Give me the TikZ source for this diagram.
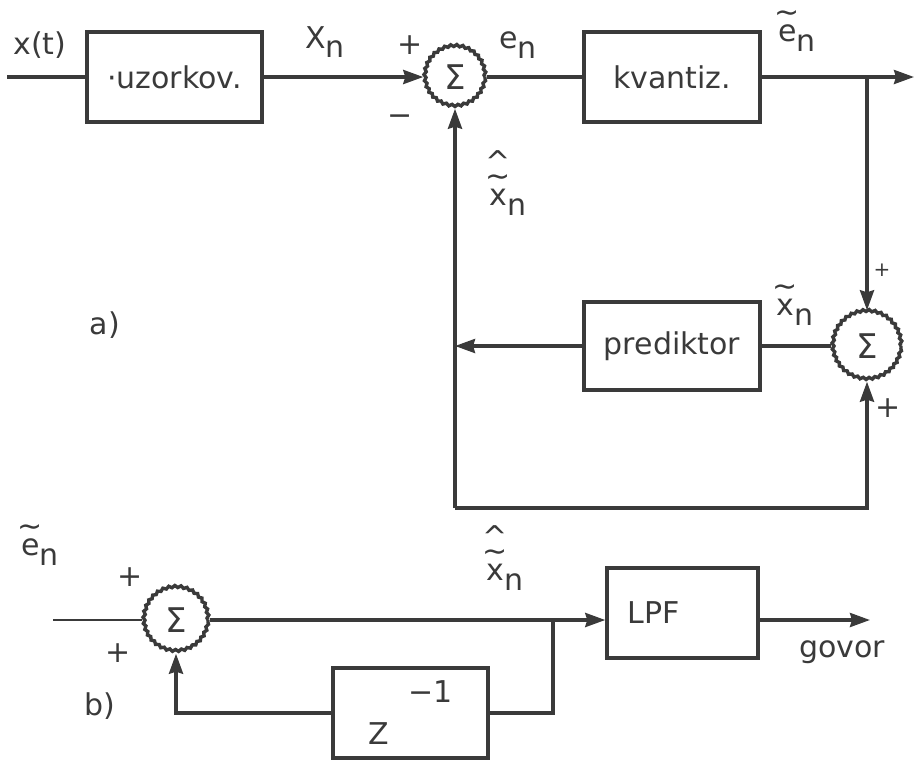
\documentclass[tikz,border=0pt]{standalone}
\usepackage{fontspec}
\setmainfont{DejaVu Sans}
\usepackage{tikz}
\usetikzlibrary{arrows.meta,positioning,decorations.pathmorphing}
\definecolor{ink}{HTML}{3A3A3A}
\newcommand\indeks[2]{#1\raisebox{-0.6ex}{#2}}
\newcommand\tild[1]{\ooalign{#1\cr\hidewidth\raisebox{1.15ex}{\textasciitilde}\hidewidth\cr}}
\newcommand\htild[1]{\ooalign{#1\cr\hidewidth\raisebox{1.15ex}{\textasciitilde}\hidewidth\cr\hidewidth\raisebox{2.0ex}{\textasciicircum}\hidewidth\cr}}
\tikzset{
  blok/.style={draw,rectangle,minimum height=45pt,inner sep=0pt},
  zbir/.style={draw,circle,inner sep=0pt,font=\fontsize{17}{20}\selectfont,
    decorate,decoration={snake,amplitude=0.5pt,segment length=3pt}},
}

\begin{document}
\begin{tikzpicture}[x=0.5pt,y=-0.5pt,ink,line width=1.7pt,
  >={Stealth[length=10pt,width=7pt,inset=1pt]},font=\fontsize{15}{18}\selectfont]
\useasboundingbox (0,0) rectangle (916,761);
% a) koder
\node[blok,minimum width=87.5pt] (uzork) at (174.5,77) {·uzorkov.};
\node[zbir,minimum size=30pt] (s1) at (455,77) {Σ};
\node[blok,minimum width=88pt] (kvant) at (672,77) {kvantiz.};
\node[zbir,minimum size=34pt] (s2) at (867,346) {Σ};
\node[blok,minimum width=88pt,minimum height=44pt] (pred) at (672,346) {prediktor};
\coordinate (ulaz) at (7,77);
\coordinate (izlaz) at (914,77);
\coordinate (grana) at (s2 |- izlaz);
\coordinate (dno) at (455,508);
\coordinate (levo) at (dno |- pred);

\draw (ulaz) -- (uzork);
\draw[->] (uzork) -- (s1);
\draw (s1) -- (kvant);
\draw[->] (kvant) -- (izlaz);
\draw[->] (grana) -- (s2);
\draw (s2) -- (pred);
\draw[->] (pred) -- (levo);
\draw[->] (dno) -- (s1);
\draw[->] (dno) -| (s2);

\node (xt) at (40,45) {x(t)};
\node (xn) at (325,42) {\indeks{X}{n}};
\node (plus1) at (410,45) {+};
\node (minus1) at (400,120) {−};
\node (en) at (518,45) {\indeks{e}{n}};
\node (eqn) at (797,38) {\indeks{\tild{e}}{n}};
\node (xp) at (508,202) {\indeks{\htild{x}}{n}};
\node (xq) at (795,312) {\indeks{\tild{x}}{n}};
\node[font=\fontsize{10}{12}\selectfont] (plus2) at (882,270) {+};
\node (plus3) at (888,408) {+};
\node (a) at (105,325) {a)};

% b) dekoder
\node[zbir,minimum size=32pt] (s3) at (176,620) {Σ};
\node[blok,minimum width=75.5pt] (lpf) at (682.5,613) {\makebox[55pt][l]{LPF}};
\node[blok,minimum width=77.5pt] (zinv) at (410.5,713) {Z\hspace{10pt}\raisebox{21pt}{−1}\hspace{10pt}};
\coordinate (ulazb) at (53,620);
\coordinate (izlazb) at (870,620);
\coordinate (granab) at (553,620);

\draw[line width=1.1pt] (ulazb) -- (s3);
\draw[->] (s3) -- (s3 -| lpf.west);
\draw[->] (s3 -| lpf.east) -- (izlazb);
\draw (granab) |- (zinv);
\draw[->] (zinv) -| (s3);

\node (eb) at (40,552) {\indeks{\tild{e}}{n}};
\node (plus4) at (130,577) {+};
\node (plus5) at (118,653) {+};
\node (b) at (100,706) {b)};
\node (xb) at (505,577) {\indeks{\htild{x}}{n}};
\node (govor) at (842,652) {govor};
\end{tikzpicture}
\end{document}
